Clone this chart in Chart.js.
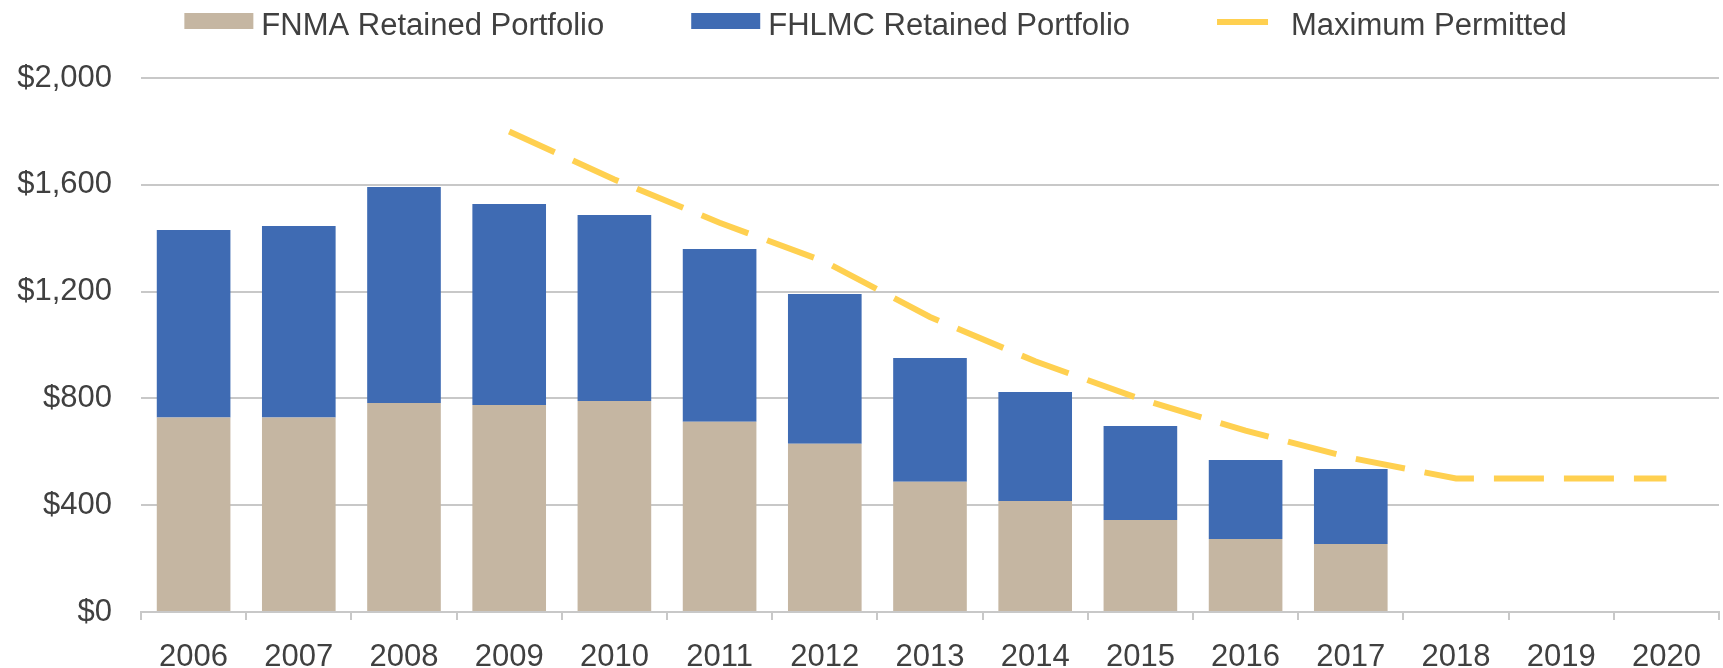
<!DOCTYPE html>
<html>
<head>
<meta charset="utf-8">
<script src="https://cdn.jsdelivr.net/npm/chart.js@4"></script>
<style>
  html, body { margin: 0; padding: 0; background: #fff; }
  #wrap { width: 1723px; height: 668px; position: relative; }
</style>
</head>
<body>
<div id="wrap"><canvas id="grafico"></canvas></div>
<script>
// valores em bilhoes de dolares
const anos = ['2006', '2007', '2008', '2009', '2010', '2011', '2012', '2013', '2014', '2015', '2016', '2017', '2018', '2019', '2020'];
const fnma = [728, 728, 783, 775, 790, 713, 630, 488, 416, 345, 273, 255, null, null, null];
const fhlmc = [703, 718, 809, 753, 697, 647, 561, 463, 408, 352, 296, 281, null, null, null];
const maximo = [null, null, null, 1800, 1620, 1458, 1312, 1105, 939, 798, 679, 577, 500, 500, 500];
const ticksY = [0, 400, 800, 1200, 1600, 2000];

const fonte = '"Liberation Sans", Arial, sans-serif';
const corTexto = '#404040';
const corGrade = '#C8C8C8';

// legenda desenhada a mao para acertar espacamentos
const legendaPlugin = {
    id: 'legendaManual',
    afterDraw(chart) {
        const ctx = chart.ctx;
        ctx.save();
        ctx.font = '31px ' + fonte;
        const itens = chart.data.datasets.map(ds => {
            const linha = ds.type === 'line';
            const caixa = linha ? 51 : 69;
            const gap = linha ? 23 : 8;
            const txt = ctx.measureText(ds.label).width;
            return { ds, linha, caixa, gap, largura: caixa + gap + txt };
        });
        const espaco = 87;
        const total = itens.reduce((s, i) => s + i.largura, 0) + espaco * (itens.length - 1);
        let x = chart.width / 2 + 14 - total / 2;
        itens.forEach(it => {
            if (it.linha) {
                ctx.fillStyle = it.ds.borderColor;
                ctx.fillRect(x, 19, it.caixa, 6);
            } else {
                ctx.fillStyle = it.ds.backgroundColor;
                ctx.fillRect(x, 13, it.caixa, 16);
            }
            ctx.fillStyle = corTexto;
            ctx.textBaseline = 'alphabetic';
            ctx.textAlign = 'left';
            ctx.fillText(it.ds.label, x + it.caixa + it.gap, 35);
            x += it.largura + espaco;
        });
        ctx.restore();
    }
};

const ctx = document.getElementById('grafico').getContext('2d');
const grafico = new Chart(ctx, {
    data: {
        labels: anos,
        datasets: [
            {
                type: 'bar',
                label: 'FNMA Retained Portfolio',
                data: fnma,
                backgroundColor: '#C5B6A2',
                stack: 'carteira',
                order: 1
            },
            {
                type: 'bar',
                label: 'FHLMC Retained Portfolio',
                data: fhlmc,
                backgroundColor: '#3F6BB3',
                stack: 'carteira',
                order: 1
            },
            {
                type: 'line',
                label: 'Maximum Permitted',
                data: maximo,
                borderColor: '#FFD050',
                borderWidth: 6,
                borderDash: [50, 20],
                borderCapStyle: 'butt',
                pointRadius: 0,
                tension: 0,
                fill: false,
                stack: 'limite',
                order: 0
            }
        ]
    },
    options: {
        responsive: true,
        maintainAspectRatio: false,
        animation: false,
        layout: {
            padding: { top: 78, left: 16, right: 4, bottom: 0 }
        },
        datasets: {
            bar: { barPercentage: 0.7, categoryPercentage: 1 }
        },
        plugins: {
            legend: { display: false },
            tooltip: { enabled: false }
        },
        scales: {
            x: {
                stacked: true,
                afterFit: scale => { scale.height = 56; },
                border: { display: true, color: corGrade, width: 2 },
                grid: {
                    offset: true,
                    drawOnChartArea: false,
                    drawTicks: true,
                    tickLength: 8,
                    color: corGrade,
                    lineWidth: 2
                },
                ticks: {
                    color: corTexto,
                    padding: 22,
                    maxRotation: 0,
                    autoSkip: false,
                    font: { family: fonte, size: 31, lineHeight: 1 }
                }
            },
            y: {
                stacked: true,
                min: 0,
                max: 2000,
                afterFit: scale => { scale.width = 125; },
                afterBuildTicks: scale => {
                    scale.ticks = ticksY.map(v => ({ value: v }));
                },
                border: { display: false },
                grid: {
                    drawTicks: false,
                    color: corGrade,
                    lineWidth: 2
                },
                ticks: {
                    color: corTexto,
                    padding: 29,
                    font: { family: fonte, size: 31, lineHeight: 1 },
                    callback: v => '$' + v.toLocaleString('en-US')
                }
            }
        }
    },
    plugins: [legendaPlugin]
});
</script>
</body>
</html>
